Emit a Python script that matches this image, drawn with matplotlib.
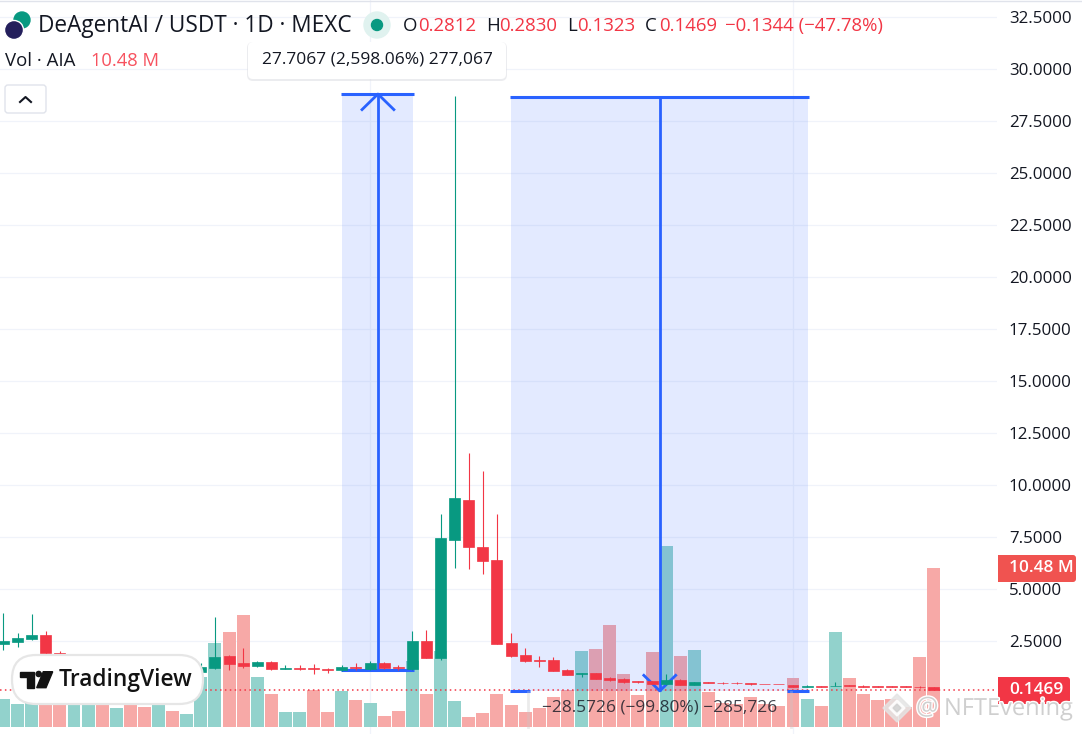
import numpy as np
import matplotlib
matplotlib.use('Agg')
import matplotlib.pyplot as plt
import matplotlib.patheffects as pe
from matplotlib.patches import FancyBboxPatch, Rectangle, Circle, Polygon

plt.rcParams['font.family'] = ['Open Sans', 'DejaVu Sans']

# candles (bars 4-13 sit behind the logo, rough guess)
opens = [2.36, 2.45, 2.60, 2.79, 1.92, 1.55, 1.60, 1.78, 1.50, 1.62, 1.45, 1.20, 1.25, 1.10, 1.01, 1.20, 1.78, 1.44,
         1.30, 1.49, 1.15, 1.20, 1.20, 1.15, 1.10, 1.25, 1.15, 1.44, 1.25, 1.15, 2.50, 1.68, 7.36, 9.28, 7.02, 6.39,
         2.40, 1.83, 1.59, 1.59, 1.11, 0.91, 0.96, 0.72, 0.67, 0.58, 0.58, 0.43, 0.63, 0.38, 0.53, 0.50, 0.50, 0.46,
         0.43, 0.42, 0.38, 0.29, 0.34, 0.33, 0.37, 0.34, 0.33, 0.33, 0.33, 0.31, 0.2812]
closes = [2.50, 2.64, 2.79, 1.92, 1.55, 1.60, 1.78, 1.50, 1.62, 1.45, 1.20, 1.25, 1.10, 1.15, 1.25, 1.73, 1.39, 1.30,
          1.49, 1.15, 1.20, 1.15, 1.15, 1.10, 1.25, 1.20, 1.44, 1.20, 1.20, 2.50, 1.68, 7.45, 9.38, 7.02, 6.35, 2.36,
          1.78, 1.54, 1.54, 1.06, 0.87, 0.96, 0.67, 0.63, 0.53, 0.53, 0.43, 0.63, 0.38, 0.53, 0.50, 0.46, 0.46, 0.43,
          0.41, 0.41, 0.29, 0.34, 0.31, 0.36, 0.34, 0.31, 0.31, 0.31, 0.31, 0.28, 0.1469]
highs = [3.85, 2.88, 3.80, 2.98, 2.00, 1.80, 1.90, 1.85, 1.75, 1.70, 1.50, 1.40, 1.35, 1.25, 1.44, 3.65, 1.83, 2.16,
         1.54, 1.52, 1.35, 1.35, 1.39, 1.20, 1.35, 1.44, 1.54, 1.48, 1.35, 2.98, 3.03, 8.61, 28.70, 11.54, 10.67, 8.61,
         2.88, 2.16, 1.78, 1.73, 1.15, 0.96, 0.96, 0.75, 0.72, 0.58, 0.60, 0.91, 0.68, 0.53, 0.53, 0.53, 0.53, 0.48,
         0.43, 0.42, 0.38, 0.38, 0.34, 0.53, 0.37, 0.38, 0.33, 0.33, 0.33, 0.34, 0.2830]
lows = [2.07, 2.21, 2.55, 1.90, 1.45, 1.40, 1.50, 1.40, 1.35, 1.35, 1.10, 1.10, 1.00, 1.00, 1.00, 1.15, 1.11, 1.20,
        1.25, 1.10, 1.15, 1.12, 0.91, 0.96, 1.06, 1.10, 1.10, 1.15, 1.10, 1.10, 1.68, 1.59, 6.01, 5.96, 5.72, 2.36,
        1.73, 1.49, 1.25, 1.06, 0.87, 0.77, 0.67, 0.58, 0.50, 0.48, 0.43, 0.40, 0.38, 0.38, 0.50, 0.43, 0.43, 0.40,
        0.41, 0.41, 0.29, 0.29, 0.31, 0.33, 0.34, 0.31, 0.31, 0.31, 0.31, 0.26, 0.1323]

# volume in millions, and its own colour flags
volumes = [1.85, 1.52, 1.78, 1.58, 1.58, 1.52, 1.52, 1.52, 1.25, 1.52, 1.32, 1.52, 1.05, 0.86, 3.30, 5.54, 6.26, 7.38,
           3.30, 2.18, 0.99, 0.99, 2.44, 0.99, 2.37, 1.78, 1.58, 0.73, 1.05, 4.35, 2.18, 5.01, 1.71, 0.66, 0.92, 2.18,
           1.45, 0.99, 1.25, 1.98, 2.44, 5.01, 5.14, 6.72, 3.49, 2.11, 4.94, 11.93, 4.68, 5.08, 2.31, 1.58, 1.52, 1.98,
           1.52, 1.38, 3.23, 1.85, 1.38, 6.26, 3.23, 2.18, 1.78, 1.85, 1.32, 4.61, 10.48]
vol_dirs = 'gggrrggrgrrgrgggrrgrggrrgrgrrgrggrrrrrrrrgrrrrrgrgrrrrrrrgrgrrrrrrr'

price_ticks = [2.5, 5, 7.5, 10, 12.5, 15, 17.5, 20, 22.5, 25, 27.5, 30, 32.5]
time_ticks = [26, 56]
last_price = 0.1469

# the two measure tools: x0, x1, bottom, top, arrow x
tool_up = (24.0, 29.04, 1.1, 28.8, 26.56)
tool_down = (36.0, 57.05, 0.1, 28.66, 46.55)
# the label of the lower tool hides the middle of its bottom line
down_label_span = (37.34, 55.6)

UP = '#089981'
DOWN = '#f23645'
BLUE = '#2962ff'
TEXT = '#131722'

fig = plt.figure(figsize=(10.82, 7.34), dpi=100)
pos = [0, 0, 997 / 1082, 1]
x_lim = (-0.248, 70.47)
y_lim = (-1.97, 33.32)

# grid and price labels at the bottom
ax = fig.add_axes(pos, zorder=1)
ax.set_xlim(x_lim)
ax.set_ylim(y_lim)
ax.set_yticks(price_ticks)
ax.set_yticklabels(['%.4f' % p for p in price_ticks], fontsize=12.2, color=TEXT)
ax.set_xticks(time_ticks)
ax.tick_params(axis='x', length=0, labelbottom=False)
ax.tick_params(axis='y', length=0, left=False, right=False, labelleft=False, labelright=True, pad=8.5)
ax.grid(True, color='#f0f3fa', linewidth=0.9)
for s in ax.spines.values():
    s.set_visible(False)

# volume in the middle
ax_vol = fig.add_axes(pos, zorder=2)
ax_vol.patch.set_alpha(0)
ax_vol.set_xlim(x_lim)
ax_vol.set_ylim(-0.46, 47.9)
ax_vol.axis('off')
x = np.arange(len(volumes))
vol_cols = ['#92d2cc' if d == 'g' else '#f7a9a7' for d in vol_dirs]
ax_vol.bar(x, volumes, width=0.92, color=vol_cols, linewidth=0)

# tools and candles on top
ax_c = fig.add_axes(pos, zorder=3)
ax_c.patch.set_alpha(0)
ax_c.set_xlim(x_lim)
ax_c.set_ylim(y_lim)
ax_c.axis('off')

for x0, x1, bot, top, xa in (tool_up, tool_down):
    ax_c.add_patch(Rectangle((x0, bot), x1 - x0, top - bot, facecolor=BLUE, alpha=0.13, linewidth=0, zorder=1))

ax_c.axhline(last_price, color=DOWN, linewidth=1.1, linestyle=(0, (1, 2.2)), zorder=2)

ax_c.hlines([tool_up[2], tool_up[3]], tool_up[0] - 0.05, tool_up[1] + 0.05, color=BLUE, linewidth=2.2, zorder=3)
ax_c.hlines(tool_down[3], tool_down[0] - 0.05, tool_down[1] + 0.05, color=BLUE, linewidth=2.2, zorder=3)
ax_c.hlines(tool_down[2], tool_down[0] - 0.05, down_label_span[0], color=BLUE, linewidth=2.2, zorder=3)
ax_c.hlines(tool_down[2], down_label_span[1], tool_down[1] + 0.05, color=BLUE, linewidth=2.2, zorder=3)
ax_c.vlines(tool_up[4], tool_up[2], tool_up[3], color=BLUE, linewidth=2.0, zorder=3)
ax_c.vlines(tool_down[4], tool_down[2], tool_down[3], color=BLUE, linewidth=2.0, zorder=3)

# arrow heads
ax_c.plot([tool_up[4] - 1.13, tool_up[4], tool_up[4] + 1.13], [tool_up[3] - 0.75, tool_up[3], tool_up[3] - 0.75],
          color=BLUE, linewidth=2.0, zorder=3)
ax_c.plot([tool_down[4] - 1.13, tool_down[4], tool_down[4] + 1.13],
          [tool_down[2] + 0.75, tool_down[2], tool_down[2] + 0.75], color=BLUE, linewidth=2.0, zorder=3)

for i in range(len(opens)):
    c = UP if closes[i] >= opens[i] else DOWN
    ax_c.vlines(i, lows[i], highs[i], color=c, linewidth=0.8, zorder=4)
    b = min(opens[i], closes[i])
    ax_c.bar(i, abs(closes[i] - opens[i]), bottom=b, width=0.78, color=c, edgecolor=c, linewidth=0.5, zorder=5)

# everything else is chart furniture, placed in pixels
ov = fig.add_axes([0, 0, 1, 1], zorder=10)
ov.patch.set_alpha(0)
ov.set_xlim(0, 1082)
ov.set_ylim(734, 0)
ov.axis('off')

def label(px, py, s, size=12.2, color=TEXT, ha='left', **kw):
    return ov.text(px, py, s, fontsize=size, color=color, ha=ha, va='center', **kw)

ov.plot([0, 1082], [0.5, 0.5], color='#e0e3eb', lw=1)

# title row
ov.add_patch(Circle((22, 20), 8, color='#089981'))
ov.add_patch(Circle((14, 30), 9.5, color='#241f5c', ec='white', lw=1))
label(38, 26, 'DeAgentAI / USDT · 1D · MEXC', size=16.3)
ov.add_patch(Circle((377, 25), 13, color='#e0f2ef'))
ov.add_patch(Circle((377, 25), 5.5, color=UP))
for px, s, c in [(403, 'O', TEXT), (418, '0.2812', DOWN), (486, 'H', TEXT), (499, '0.2830', DOWN),
                 (567, 'L', TEXT), (577, '0.1323', DOWN), (645, 'C', TEXT), (659, '0.1469', DOWN),
                 (725, '−0.1344 (−47.78%)', DOWN)]:
    label(px, 26, s, size=13.4, color=c)
label(5, 61, 'Vol · AIA', size=13.4)
label(91, 61, '10.48 M', size=13.2, color='#f7525f')

# collapse button
ov.add_patch(FancyBboxPatch((5, 85), 41, 28, boxstyle='round,pad=0,rounding_size=3', fc='white', ec='#e0e3eb', lw=1))
ov.plot([20, 25.5, 31], [102, 97, 102], color=TEXT, lw=1.5)

# tooltip of the upper tool
ov.add_patch(FancyBboxPatch((247, 42), 260, 39, boxstyle='round,pad=0,rounding_size=6', fc='#dcdde2', ec='none',
                            alpha=0.55))
ov.add_patch(FancyBboxPatch((248, 42), 258, 37, boxstyle='round,pad=0,rounding_size=5', fc='white', ec='none'))
label(377, 60, '27.7067 (2,598.06%) 277,067', size=12.5, ha='center')

# label of the lower tool
ov.plot([528, 528], [692, 727], color='#c8c8c8', lw=2, alpha=0.35)
ov.plot([791, 791], [692, 727], color='#c8c8c8', lw=2, alpha=0.35)
label(660, 708, '−28.5726 (−99.80%) −285,726', size=12.4, ha='center', alpha=0.8)

# price tags
for x0, x1, y0, y1, col, s in [(998, 1076, 555, 582, '#f05350', '10.48 M'), (998, 1070, 677, 704, DOWN, '0.1469')]:
    ov.add_patch(FancyBboxPatch((x0, y0), x1 - x0, y1 - y0, boxstyle='round,pad=0,rounding_size=3', fc=col, ec='none'))
    ov.add_patch(Rectangle((x0, y0), 5, y1 - y0, fc=col, ec='none'))
    label(x0 + 11, (y0 + y1) / 2, s, size=12.4, color='white', fontweight='semibold')

# TradingView badge
ov.add_patch(FancyBboxPatch((12, 655), 191, 49, boxstyle='round,pad=0,rounding_size=24', fc='white', ec='#e6e6e6', lw=1.6))
ov.add_patch(Polygon([(20, 671.7), (34, 671.7), (34, 687.7), (27, 687.7), (27, 676.7), (20, 676.7)], color='#131313'))
ov.add_patch(Circle((38.7, 674), 2.6, color='#131313'))
ov.add_patch(Polygon([(43.3, 671.7), (52.7, 671.7), (46, 687.7), (36.7, 687.7)], color='#131313'))
label(59, 680, 'TradingView', size=16.4, color='#131313', fontweight='semibold')

# watermark
halo = [pe.withStroke(linewidth=2, foreground='white')]
for r, c in [(14, '#e4e4e4'), (8, 'white'), (4, '#d0d0d0')]:
    ov.add_patch(Polygon([(897 - r, 708), (897, 708 - r), (897 + r, 708), (897, 708 + r)], color=c, alpha=0.85))
label(916, 708, '@', size=18, color='#cfcfcf', path_effects=halo)
label(944, 709, 'NFTEvening', size=17, color='#cfcfcf', path_effects=halo)

fig.savefig('out.png', dpi=100)
